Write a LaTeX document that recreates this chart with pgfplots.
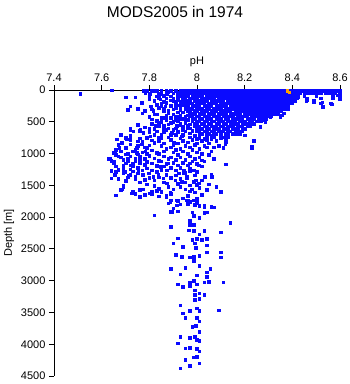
\documentclass[border=0pt]{standalone}
\usepackage{pgfplots}
\pgfplotsset{compat=1.18}
\usepackage{fontspec}
\setmainfont{Liberation Sans}
\definecolor{ptblue}{RGB}{10,10,255}
\definecolor{ptorange}{RGB}{255,160,0}
\begin{document}
\begin{tikzpicture}
\path[use as bounding box] (-54pt,-8pt) rectangle (296pt,376pt);
\node[font=\fontsize{15.5}{18}\selectfont] at (121pt,364pt) {MODS2005 in 1974};
\begin{axis}[
  at={(0,0)}, anchor=south west,
  scale only axis, width=286pt, height=286pt,
  xmin=7.4, xmax=8.6, ymin=0, ymax=4500,
  y dir=reverse,
  axis x line*=top, axis y line*=left,
  xtick={7.4,7.6,7.8,8,8.2,8.4,8.6},
  xticklabels={7.4,7.6,7.8,8,8.2,8.4,8.6},
  ytick={0,500,1000,1500,2000,2500,3000,3500,4000,4500},
  yticklabels={0,500,1000,1500,2000,2500,3000,3500,4000,4500},
  tick align=outside, major tick length=5pt,
  xlabel={pH}, ylabel={Depth [m]},
  tick label style={font=\fontsize{11}{13}\selectfont},
  label style={font=\fontsize{11}{13}\selectfont},
  axis line style={line width=0.8pt, black},
  tick style={line width=0.8pt, black},
  clip=false,
]
% dense near-surface rows
\addplot[only marks, mark=square*, mark size=1.3pt, color=ptblue] coordinates {
(7.94,15)(7.95,15)(7.96,15)(7.97,15)(7.98,15)(7.99,15)(8.00,15)(8.01,15)(8.02,15)(8.03,15)(8.04,15)(8.05,15)(8.06,15)(8.07,15)(8.08,15)(8.09,15)(8.10,15)(8.11,15)(8.12,15)(8.13,15)(8.14,15)(8.15,15)(8.16,15)(8.17,15)(8.18,15)(8.19,15)(8.20,15)(8.21,15)(8.22,15)(8.23,15)(8.24,15)(8.25,15)(8.26,15)(8.27,15)(8.28,15)(8.29,15)(8.30,15)(8.31,15)(8.32,15)(8.33,15)(8.34,15)(8.35,15)(8.36,15)(8.37,15)(8.38,15)(8.39,15)(8.40,15)(8.41,15)(8.42,15)(8.43,15)(8.44,15)(8.45,15)(8.46,15)(8.47,15)(8.48,15)(8.49,15)(8.50,15)(8.51,15)(8.52,15)(8.53,15)(8.54,15)(8.55,15)(8.56,15)(8.57,15)(8.58,15)(8.59,15)(8.60,15)
(7.94,50)(7.95,50)(7.96,50)(7.97,50)(7.98,50)(7.99,50)(8.00,50)(8.01,50)(8.02,50)(8.03,50)(8.04,50)(8.05,50)(8.06,50)(8.07,50)(8.08,50)(8.09,50)(8.10,50)(8.11,50)(8.12,50)(8.13,50)(8.14,50)(8.15,50)(8.16,50)(8.17,50)(8.18,50)(8.19,50)(8.20,50)(8.21,50)(8.22,50)(8.23,50)(8.24,50)(8.25,50)(8.26,50)(8.27,50)(8.28,50)(8.29,50)(8.30,50)(8.31,50)(8.32,50)(8.33,50)(8.34,50)(8.35,50)(8.36,50)(8.37,50)(8.38,50)(8.39,50)(8.40,50)(8.41,50)(8.42,50)(8.43,50)(8.45,50)(8.46,50)(8.47,50)(8.48,50)(8.49,50)(8.50,50)(8.51,50)(8.52,50)(8.54,50)(8.55,50)(8.56,50)(8.57,50)(8.58,50)(8.60,50)
(7.93,90)(7.94,90)(7.95,90)(7.96,90)(7.98,90)(7.99,90)(8.00,90)(8.01,90)(8.02,90)(8.04,90)(8.05,90)(8.06,90)(8.07,90)(8.08,90)(8.09,90)(8.10,90)(8.11,90)(8.12,90)(8.13,90)(8.14,90)(8.15,90)(8.16,90)(8.17,90)(8.18,90)(8.19,90)(8.20,90)(8.21,90)(8.22,90)(8.23,90)(8.24,90)(8.25,90)(8.26,90)(8.27,90)(8.28,90)(8.29,90)(8.30,90)(8.31,90)(8.32,90)(8.33,90)(8.34,90)(8.35,90)(8.36,90)(8.37,90)(8.38,90)(8.39,90)(8.40,90)(8.41,90)(8.42,90)(8.45,90)(8.50,90)(8.57,90)(8.60,90)
(7.94,130)(7.95,130)(7.97,130)(7.98,130)(7.99,130)(8.00,130)(8.02,130)(8.03,130)(8.04,130)(8.05,130)(8.06,130)(8.07,130)(8.09,130)(8.10,130)(8.11,130)(8.12,130)(8.13,130)(8.14,130)(8.15,130)(8.16,130)(8.17,130)(8.18,130)(8.19,130)(8.20,130)(8.21,130)(8.22,130)(8.23,130)(8.24,130)(8.25,130)(8.26,130)(8.27,130)(8.28,130)(8.29,130)(8.30,130)(8.31,130)(8.32,130)(8.33,130)(8.34,130)(8.35,130)(8.36,130)(8.37,130)(8.38,130)(8.39,130)(8.40,130)(8.41,130)(8.42,130)(8.46,130)(8.52,130)(8.57,130)(8.60,130)
(7.94,170)(7.95,170)(7.96,170)(7.97,170)(7.99,170)(8.00,170)(8.01,170)(8.02,170)(8.03,170)(8.04,170)(8.06,170)(8.07,170)(8.08,170)(8.09,170)(8.10,170)(8.11,170)(8.13,170)(8.14,170)(8.15,170)(8.16,170)(8.17,170)(8.18,170)(8.19,170)(8.20,170)(8.21,170)(8.22,170)(8.23,170)(8.24,170)(8.25,170)(8.26,170)(8.27,170)(8.28,170)(8.29,170)(8.30,170)(8.31,170)(8.32,170)(8.33,170)(8.34,170)(8.35,170)(8.36,170)(8.37,170)(8.38,170)(8.39,170)(8.40,170)(8.41,170)(8.49,170)
(7.95,210)(7.96,210)(7.97,210)(7.98,210)(8.00,210)(8.01,210)(8.02,210)(8.03,210)(8.05,210)(8.06,210)(8.07,210)(8.08,210)(8.10,210)(8.11,210)(8.12,210)(8.13,210)(8.14,210)(8.15,210)(8.16,210)(8.17,210)(8.18,210)(8.19,210)(8.20,210)(8.21,210)(8.22,210)(8.23,210)(8.24,210)(8.25,210)(8.26,210)(8.27,210)(8.28,210)(8.29,210)(8.30,210)(8.31,210)(8.32,210)(8.33,210)(8.34,210)(8.35,210)(8.36,210)(8.37,210)(8.38,210)(8.39,210)(8.40,210)(8.52,210)(8.56,210)
(7.95,250)(7.96,250)(7.98,250)(7.99,250)(8.00,250)(8.01,250)(8.03,250)(8.04,250)(8.05,250)(8.06,250)(8.08,250)(8.09,250)(8.10,250)(8.11,250)(8.12,250)(8.14,250)(8.15,250)(8.16,250)(8.17,250)(8.18,250)(8.19,250)(8.20,250)(8.21,250)(8.22,250)(8.23,250)(8.24,250)(8.25,250)(8.26,250)(8.27,250)(8.28,250)(8.29,250)(8.30,250)(8.31,250)(8.32,250)(8.33,250)(8.34,250)(8.35,250)(8.36,250)(8.37,250)(8.38,250)(8.53,267)
(7.96,290)(7.97,290)(7.98,290)(8.00,290)(8.01,290)(8.02,290)(8.04,290)(8.05,290)(8.07,290)(8.08,290)(8.09,290)(8.10,290)(8.12,290)(8.13,290)(8.14,290)(8.15,290)(8.16,290)(8.17,290)(8.18,290)(8.19,290)(8.20,290)(8.21,290)(8.22,290)(8.23,290)(8.24,290)(8.25,290)(8.26,290)(8.27,290)(8.28,290)(8.29,290)(8.30,290)(8.31,290)(8.32,290)(8.33,290)(8.34,290)(8.35,290)(8.36,290)(8.37,290)
(7.96,330)(7.97,330)(7.99,330)(8.00,330)(8.02,330)(8.03,330)(8.04,330)(8.06,330)(8.07,330)(8.08,330)(8.10,330)(8.11,330)(8.12,330)(8.13,330)(8.14,330)(8.16,330)(8.17,330)(8.18,330)(8.19,330)(8.20,330)(8.21,330)(8.22,330)(8.23,330)(8.24,330)(8.25,330)(8.26,330)(8.27,330)(8.28,330)(8.29,330)(8.30,330)(8.31,330)(8.32,330)(8.33,330)(8.34,330)(8.35,330)
(7.97,370)(7.98,370)(7.99,370)(8.01,370)(8.02,370)(8.03,370)(8.05,370)(8.06,370)(8.07,370)(8.09,370)(8.10,370)(8.11,370)(8.12,370)(8.14,370)(8.15,370)(8.16,370)(8.17,370)(8.18,370)(8.20,370)(8.21,370)(8.22,370)(8.23,370)(8.24,370)(8.25,370)(8.26,370)(8.27,370)(8.28,370)(8.29,370)(8.30,370)(8.31,370)(8.32,370)(8.33,370)(8.34,370)
(7.97,410)(7.98,410)(8.00,410)(8.01,410)(8.03,410)(8.04,410)(8.05,410)(8.07,410)(8.08,410)(8.09,410)(8.11,410)(8.12,410)(8.13,410)(8.14,410)(8.15,410)(8.17,410)(8.18,410)(8.19,410)(8.20,410)(8.21,410)(8.23,410)(8.24,410)(8.25,410)(8.26,410)(8.27,410)(8.28,410)(8.29,410)(8.30,410)(8.31,410)
(7.98,450)(7.99,450)(8.01,450)(8.02,450)(8.04,450)(8.05,450)(8.06,450)(8.08,450)(8.09,450)(8.10,450)(8.12,450)(8.13,450)(8.15,450)(8.16,450)(8.17,450)(8.18,450)(8.19,450)(8.21,450)(8.22,450)(8.23,450)(8.24,450)(8.26,450)(8.27,450)(8.28,450)(8.29,450)
(7.98,490)(8.00,490)(8.01,490)(8.03,490)(8.04,490)(8.06,490)(8.07,490)(8.09,490)(8.10,490)(8.11,490)(8.13,490)(8.14,490)(8.15,490)(8.16,490)(8.18,490)(8.19,490)(8.20,490)(8.22,490)(8.23,490)(8.25,490)(8.26,490)(8.27,490)
(7.99,530)(8.00,530)(8.02,530)(8.03,530)(8.05,530)(8.06,530)(8.08,530)(8.09,530)(8.11,530)(8.12,530)(8.14,530)(8.15,530)(8.16,530)(8.17,530)(8.19,530)(8.20,530)(8.21,530)(8.23,530)(8.24,530)
(7.99,570)(8.00,570)(8.01,570)(8.03,570)(8.04,570)(8.06,570)(8.07,570)(8.08,570)(8.10,570)(8.11,570)(8.13,570)(8.14,570)(8.15,570)(8.17,570)(8.18,570)(8.19,570)(8.21,570)(8.22,570)
(8.00,610)(8.01,610)(8.02,610)(8.04,610)(8.05,610)(8.07,610)(8.08,610)(8.09,610)(8.11,610)(8.12,610)(8.13,610)(8.15,610)(8.16,610)(8.17,610)(8.19,610)(8.20,610)
(8.00,650)(8.01,650)(8.03,650)(8.04,650)(8.06,650)(8.07,650)(8.09,650)(8.10,650)(8.11,650)(8.13,650)(8.14,650)(8.16,650)(8.18,650)(8.19,650)
(8.01,690)(8.02,690)(8.04,690)(8.05,690)(8.07,690)(8.08,690)(8.10,690)(8.12,690)(8.13,690)(8.15,690)(8.16,690)(8.17,690)
(8.01,730)(8.04,730)(8.07,730)(8.10,730)(8.13,730)(8.00,770)(8.03,770)(8.06,770)(8.12,770)
};
% scattered points, upper left and middle
\addplot[only marks, mark=square*, mark size=1.3pt, color=ptblue] coordinates {
(7.51,58)(7.642,5)(7.70,115)(7.74,115)(7.775,10)(7.782,42)(7.77,210)(7.72,257)(7.75,293)(7.71,309)(7.78,325)(7.77,367)(7.768,199)(7.803,68)(7.80,140)(7.81,20)(7.806,252)(7.817,330)(7.831,383)(7.81,462)(7.824,566)(7.838,514)(7.845,147)(7.852,435)(7.859,619)(7.866,252)(7.873,68)(7.88,357)(7.887,514)(7.894,671)(7.901,173)(7.901,829)(7.908,409)(7.915,566)(7.922,42)(7.929,252)(7.936,724)(7.943,462)(7.82,10)(7.83,95)(7.84,60)(7.85,20)(7.86,180)(7.87,130)(7.88,25)(7.89,95)(7.90,300)(7.91,220)(7.92,150)(7.84,280)(7.86,330)(7.85,210)(7.89,440)(7.90,500)(7.87,470)(7.92,350)(7.93,400)(7.92,480)(7.91,600)(7.93,550)(7.94,620)(7.88,600)(7.86,560)(7.83,650)(7.85,700)(7.80,600)(7.78,587)(7.76,640)(7.72,624)(7.75,545)(7.733,645)(7.761,619)(7.775,671)(7.719,608)(7.677,698)
(7.79,15)(7.81,15)(7.83,15)(7.85,15)(7.87,15)(7.89,15)(7.91,15)(7.93,15)(7.80,50)(7.84,50)(7.87,50)(7.90,50)(7.92,50)
(7.80,100)(7.82,170)(7.83,230)(7.81,300)(7.82,380)(7.80,420)(7.83,480)(7.81,530)(7.84,560)(7.82,610)(7.80,660)(7.84,120)(7.85,60)(7.86,90)(7.85,250)(7.87,200)(7.86,290)(7.88,320)(7.87,400)(7.86,440)(7.85,500)(7.88,540)(7.87,620)(7.86,660)(7.89,160)(7.90,130)(7.89,250)(7.91,280)(7.90,380)(7.92,420)(7.89,520)(7.91,470)(7.90,620)(7.92,660)(7.93,320)(7.92,240)(7.93,180)(7.92,100)(7.93,450)(7.91,700)(7.89,700)(7.84,740)(7.82,700)
(7.94,450)(7.96,470)(7.95,510)(7.97,540)(7.94,580)(7.96,600)(7.98,640)(7.95,650)(7.97,680)(7.94,700)(7.99,720)(7.96,560)(7.93,520)(7.95,420)(7.96,395)(7.94,350)(7.95,300)(7.93,270)(7.94,230)(7.93,200)(7.97,600)
(7.68,703)(7.70,755)(7.72,781)(7.75,807)(7.77,807)(7.663,776)(7.684,829)(7.705,776)(7.719,855)(7.67,860)(7.66,938)(7.65,990)(7.68,965)(7.70,912)(7.74,938)(7.656,960)(7.674,907)(7.747,907)(7.768,855)(7.747,986)(7.782,960)(7.803,724)(7.63,1080)(7.65,1122)(7.67,1044)(7.69,1096)(7.71,1070)(7.73,1149)(7.76,1096)(7.78,1175)(7.635,1075)(7.65,1154)(7.64,1270)(7.67,1254)(7.69,1238)(7.72,1332)(7.74,1358)(7.77,1332)(7.80,1306)(7.64,1385)(7.67,1395)(7.71,1374)(7.74,1395)(7.78,1411)(7.655,1337)(7.69,1232)(7.754,1259)(7.712,1353)(7.698,1285)(7.72,1248)(7.796,1311)(7.775,1337)(7.817,1364)(7.838,1337)(7.845,1206)(7.88,1154)(7.873,1259)(7.943,1259)(7.97,1232)(7.922,1311)(7.957,1390)(7.908,1416)(7.936,1442)(7.859,1390)(7.873,1468)(7.985,1442)(7.995,1416)(8.006,1468)(8.03,1364)(8.06,1337)
(7.79,750)(7.81,790)(7.82,830)(7.80,870)(7.79,910)(7.81,950)(7.83,990)(7.80,1030)(7.82,1070)(7.84,1110)(7.81,1150)(7.83,1190)(7.85,760)(7.84,800)(7.86,840)(7.85,880)(7.87,920)(7.86,960)(7.84,1000)(7.86,1040)(7.88,1080)(7.85,1120)(7.87,1160)(7.86,1200)(7.88,740)(7.89,780)(7.90,860)(7.89,900)(7.91,940)(7.90,980)(7.92,1020)(7.89,1060)(7.91,1100)(7.90,1140)(7.92,1180)(7.89,1220)(7.91,1260)(7.93,760)(7.94,800)(7.92,840)(7.95,880)(7.93,920)(7.94,960)(7.96,1000)(7.93,1060)(7.95,1100)(7.94,1140)(7.96,1180)(7.93,1220)(7.95,1300)(7.97,740)(7.98,780)(7.96,820)(7.99,860)(7.97,900)(7.98,940)(8.00,980)(7.97,1040)(7.99,1080)(7.98,1120)(8.00,1160)(7.97,1280)(7.99,1340)(8.01,760)(8.02,800)(8.00,840)(8.03,880)(8.01,920)(8.02,1000)(8.01,1060)(8.03,1120)(8.02,1200)(8.04,780)(8.05,840)(8.04,900)(8.06,960)(8.05,1020)(8.07,1080)(8.06,720)(8.08,800)(8.10,760)(8.12,820)(8.09,880)(8.11,740)
(7.70,1010)(7.72,1040)(7.74,1070)(7.75,1010)(7.76,1150)(7.73,1200)(7.69,1180)(7.66,1200)(7.71,1120)(7.75,1220)(7.77,1260)(7.79,1230)(7.81,1260)(7.83,1290)(7.85,1250)(7.84,1370)(7.82,1420)(7.87,1330)(7.89,1380)(7.91,1340)(7.93,1400)(7.95,1450)(7.97,1500)(7.92,1470)
(7.66,1020)(7.68,1060)(7.64,1110)(7.70,1150)(7.72,1180)(7.74,1110)(7.76,1040)(7.78,1080)(7.79,1130)(7.77,980)(7.79,1000)(7.71,1000)(7.73,960)(7.75,880)(7.78,900)(7.76,760)(7.72,720)(7.69,1300)(7.66,1290)(7.73,1280)(7.75,1310)(7.80,1380)(7.70,1430)(7.76,1450)(7.79,1480)(7.82,1510)(7.86,1450)(7.88,1520)(7.90,1560)(7.84,1550)
(8.24,803)(8.23,892)(8.11,918)(8.07,902)(8.118,855)(8.125,708)(8.167,630)(8.18,682)(8.199,708)(8.265,577)(8.307,420)(8.279,472)(8.223,525)(8.363,367)(8.349,420)(8.41,157)(8.425,105)(8.458,168)(8.237,802)(8.23,907)(8.11,907)(8.18,698)(8.202,713)(8.286,503)(8.356,399)(8.381,294)(7.957,1364)(7.943,1311)(7.985,1259)(8.00,1285)(8.034,1364)(8.062,1364)(8.12,1165)(8.069,1075)(8.02,1102)(8.006,1180)(7.97,1154)
(8.489,189)(8.525,189)(8.528,267)(8.565,225)(8.57,120)(8.59,84)(8.60,100)(8.60,140)(8.46,162)
};
% deeper points
\addplot[only marks, mark=square*, mark size=1.3pt, color=ptblue] coordinates {
(7.69,1495)(7.66,1652)(7.684,1563)(7.726,1626)(7.76,1573)(7.76,1678)(7.775,1563)(7.80,1626)(7.81,1600)(7.83,1584)(7.85,1600)(7.87,1652)(7.887,1757)(7.893,1914)(7.915,1810)(7.957,1731)(7.97,1757)(8.00,1783)(8.03,1825)(8.03,1930)(8.06,1836)(7.82,1967)(7.978,1563)(8.04,1573)(7.887,1615)(7.915,1731)
(7.69,1531)(7.68,1568)(7.73,1594)(7.76,1568)(7.66,1657)(7.74,1636)(7.76,1673)(7.78,1647)(7.81,1636)(7.84,1673)(7.89,1636)(7.92,1740)(7.97,1594)(8.00,1490)
(7.93,1520)(7.95,1560)(7.99,1610)(8.01,1540)(8.02,1650)(7.96,1660)(8.05,1480)(8.08,1520)(8.02,1420)(8.10,1600)(7.94,1700)(8.00,1700)
(7.87,1678)(7.89,1731)(7.92,1731)(7.96,1746)(7.985,1731)(8.00,1746)(7.88,1783)(7.93,1799)(7.96,1799)(7.99,1809)(8.01,1820)(8.03,1836)(8.07,1846)(7.90,1862)(7.89,1914)(7.92,1904)(7.98,1925)(8.04,1925)(7.985,1977)(8.01,2009)(7.97,2061)(7.89,2150)(8.14,2087)(7.97,2124)(7.985,2124)(7.965,2203)(7.985,2218)(8.03,2213)(8.10,2239)(8.01,2271)(7.92,2334)(7.98,2360)(8.00,2344)(8.02,2360)(8.04,2344)(7.90,2412)(7.99,2412)(8.04,2439)(7.94,2465)(7.995,2481)
(7.91,2596)(7.935,2622)(7.97,2633)(7.985,2622)(8.01,2606)(8.04,2554)(8.10,2554)(8.10,2633)(7.985,2690)(8.055,2816)(7.89,2816)(7.95,2795)(8.01,2764)(8.00,2911)(8.04,2869)(8.04,2937)(7.93,2900)(7.92,3058)(7.94,3094)(7.97,3026)(7.985,3005)(8.00,3058)(8.03,3026)(8.05,3016)(8.11,3026)(7.97,3079)(7.99,3147)(8.01,3199)(7.99,3225)(8.03,3225)(8.01,3288)(7.99,3304)(7.93,3383)(8.00,3435)(8.01,3477)(7.97,3477)(8.09,3462)(7.94,3514)(7.95,3582)(8.00,3582)(8.01,3635)(7.98,3724)(7.995,3708)(8.01,3802)(7.93,3881)(7.97,3897)(7.99,3881)(8.00,3933)(8.01,3949)(7.92,3986)(7.95,4065)(7.97,4054)(8.00,4075)(8.01,4107)(7.95,4248)(7.97,4337)(7.985,4206)(8.00,4196)(8.01,4301)(7.93,4380)
};
% orange points
\addplot[only marks, mark=square*, mark size=1.1pt, color=ptorange] coordinates {
(8.378,10)(8.388,30)
};
\end{axis}
\end{tikzpicture}
\end{document}
